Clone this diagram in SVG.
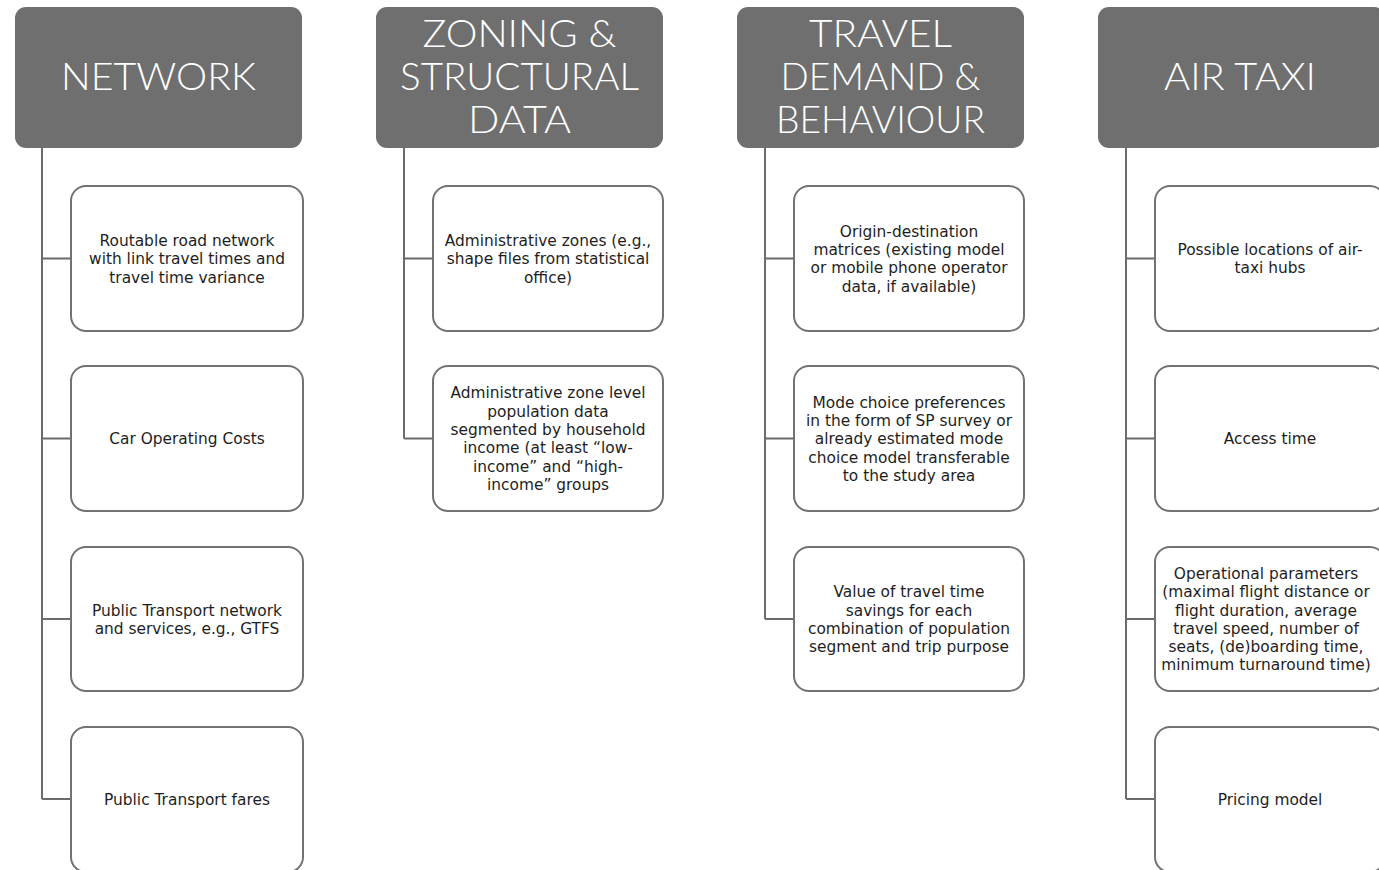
<svg xmlns="http://www.w3.org/2000/svg" width="1379" height="870" viewBox="0 0 1379 870">
<style>
.hdr{fill:#6f6f6f}
.hdrt{fill:#ffffff;font-family:Lato,"Open Sans",sans-serif;font-weight:300;font-size:38px;text-anchor:middle}
.box{fill:#ffffff;stroke:#727272;stroke-width:2}
.bt{fill:#1e1e1e;font-family:"DejaVu Sans","Noto Sans",sans-serif;font-size:15.4px;text-anchor:middle}
.con{fill:none;stroke:#6b6b6b;stroke-width:2}
</style>
<rect width="1379" height="870" fill="#ffffff"/>
<g id="connectors">
<path class="con" d="M42,148 V799 M42,258.5 H71 M42,438.5 H71 M42,619 H71 M42,799 H71"/>
<path class="con" d="M404,148 V438.5 M404,258.5 H433 M404,438.5 H433"/>
<path class="con" d="M765,148 V619 M765,258.5 H794 M765,438.5 H794 M765,619 H794"/>
<path class="con" d="M1126,148 V799 M1126,258.5 H1155 M1126,438.5 H1155 M1126,619 H1155 M1126,799 H1155"/>
</g>
<g id="h-network"><rect class="hdr" x="15" y="7" width="287" height="141" rx="11"/>
<text class="hdrt" x="158.5" y="90" textLength="195" lengthAdjust="spacingAndGlyphs">NETWORK</text></g>
<g id="h-zoning"><rect class="hdr" x="376" y="7" width="287" height="141" rx="11"/>
<text class="hdrt"><tspan x="519.5" y="47" textLength="194" lengthAdjust="spacingAndGlyphs">ZONING &amp;</tspan><tspan x="519.5" y="90" textLength="239" lengthAdjust="spacingAndGlyphs">STRUCTURAL</tspan><tspan x="519.5" y="133" textLength="103" lengthAdjust="spacingAndGlyphs">DATA</tspan></text></g>
<g id="h-travel"><rect class="hdr" x="737" y="7" width="287" height="141" rx="11"/>
<text class="hdrt"><tspan x="880.5" y="47" textLength="143" lengthAdjust="spacingAndGlyphs">TRAVEL</tspan><tspan x="880.5" y="90" textLength="200" lengthAdjust="spacingAndGlyphs">DEMAND &amp;</tspan><tspan x="880.5" y="133" textLength="209" lengthAdjust="spacingAndGlyphs">BEHAVIOUR</tspan></text></g>
<g id="h-airtaxi"><rect class="hdr" x="1098" y="7" width="287" height="141" rx="11"/>
<text class="hdrt" x="1240" y="90" textLength="152" lengthAdjust="spacingAndGlyphs">AIR TAXI</text></g>

<g id="n1-1"><rect class="box" x="71" y="186" width="232" height="145" rx="15"/>
<text class="bt"><tspan x="187" y="245.9">Routable road network</tspan><tspan x="187" dy="18.3">with link travel times and</tspan><tspan x="187" dy="18.3">travel time variance</tspan></text></g>
<g id="n1-2"><rect class="box" x="71" y="366" width="232" height="145" rx="15"/>
<text class="bt" x="187" y="444.2">Car Operating Costs</text></g>
<g id="n1-3"><rect class="box" x="71" y="547" width="232" height="144" rx="15"/>
<text class="bt"><tspan x="187" y="615.5">Public Transport network</tspan><tspan x="187" dy="18.3">and services, e.g., GTFS</tspan></text></g>
<g id="n1-4"><rect class="box" x="71" y="727" width="232" height="145" rx="15"/>
<text class="bt" x="187" y="804.7">Public Transport fares</text></g>

<g id="n2-1"><rect class="box" x="433" y="186" width="230" height="145" rx="15"/>
<text class="bt"><tspan x="548" y="245.9">Administrative zones (e.g.,</tspan><tspan x="548" dy="18.3">shape files from statistical</tspan><tspan x="548" dy="18.3">office)</tspan></text></g>
<g id="n2-2"><rect class="box" x="433" y="366" width="230" height="145" rx="15"/>
<text class="bt"><tspan x="548" y="398.4">Administrative zone level</tspan><tspan x="548" dy="18.3">population data</tspan><tspan x="548" dy="18.3">segmented by household</tspan><tspan x="548" dy="18.3">income (at least “low-</tspan><tspan x="548" dy="18.3">income” and “high-</tspan><tspan x="548" dy="18.3">income” groups</tspan></text></g>

<g id="n3-1"><rect class="box" x="794" y="186" width="230" height="145" rx="15"/>
<text class="bt"><tspan x="909" y="236.7">Origin-destination</tspan><tspan x="909" dy="18.3">matrices (existing model</tspan><tspan x="909" dy="18.3">or mobile phone operator</tspan><tspan x="909" dy="18.3">data, if available)</tspan></text></g>
<g id="n3-2"><rect class="box" x="794" y="366" width="230" height="145" rx="15"/>
<text class="bt"><tspan x="909" y="407.6">Mode choice preferences</tspan><tspan x="909" dy="18.3">in the form of SP survey or</tspan><tspan x="909" dy="18.3">already estimated mode</tspan><tspan x="909" dy="18.3">choice model transferable</tspan><tspan x="909" dy="18.3">to the study area</tspan></text></g>
<g id="n3-3"><rect class="box" x="794" y="547" width="230" height="144" rx="15"/>
<text class="bt"><tspan x="909" y="597.2">Value of travel time</tspan><tspan x="909" dy="18.3">savings for each</tspan><tspan x="909" dy="18.3">combination of population</tspan><tspan x="909" dy="18.3">segment and trip purpose</tspan></text></g>

<g id="n4-1"><rect class="box" x="1155" y="186" width="230" height="145" rx="15"/>
<text class="bt"><tspan x="1270" y="255">Possible locations of air-</tspan><tspan x="1270" dy="18.3">taxi hubs</tspan></text></g>
<g id="n4-2"><rect class="box" x="1155" y="366" width="230" height="145" rx="15"/>
<text class="bt" x="1270" y="444.2">Access time</text></g>
<g id="n4-3"><rect class="box" x="1155" y="547" width="230" height="144" rx="15"/>
<text class="bt"><tspan x="1266" y="578.9">Operational parameters</tspan><tspan x="1266" dy="18.3">(maximal flight distance or</tspan><tspan x="1266" dy="18.3">flight duration, average</tspan><tspan x="1266" dy="18.3">travel speed, number of</tspan><tspan x="1266" dy="18.3">seats, (de)boarding time,</tspan><tspan x="1266" dy="18.3">minimum turnaround time)</tspan></text></g>
<g id="n4-4"><rect class="box" x="1155" y="727" width="230" height="145" rx="15"/>
<text class="bt" x="1270" y="804.7">Pricing model</text></g>
</svg>
